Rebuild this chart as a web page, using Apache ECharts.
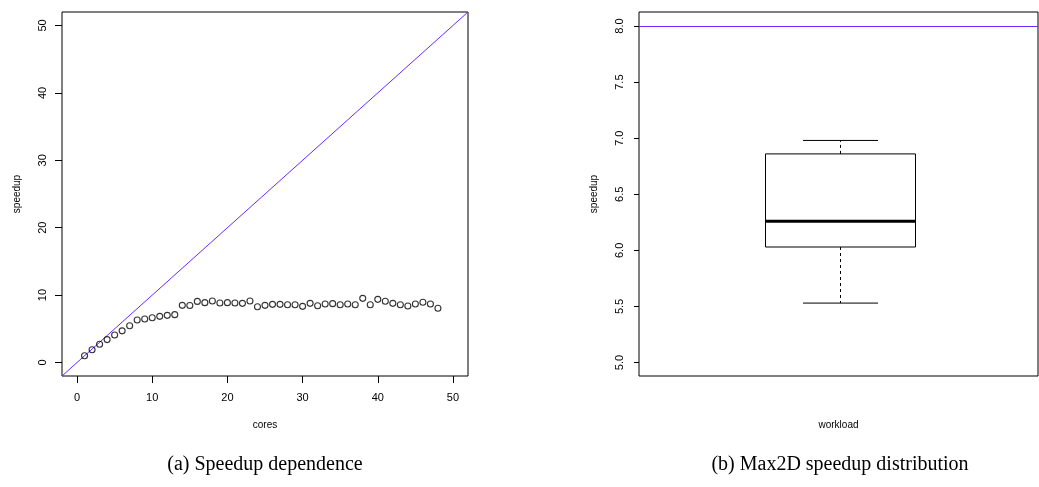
<!DOCTYPE html>
<html>
<head>
<meta charset="utf-8">
<script src="https://cdn.jsdelivr.net/npm/echarts@6/dist/echarts.min.js"></script>
<style>
html,body{margin:0;padding:0;background:#fff;}
#chart{width:1039px;height:487px;}
</style>
</head>
<body>
<div id="chart"></div>
<script>
// ---- data ----
const cores = [1,2,3,4,5,6,7,8,9,10,11,12,13,14,15,16,17,18,19,20,21,22,23,24,25,26,27,28,29,30,31,32,33,34,35,36,37,38,39,40,41,42,43,44,45,46,47,48];
const speedup = [1.0,1.9,2.7,3.4,4.08,4.7,5.46,6.3,6.45,6.65,6.85,7.0,7.1,8.48,8.45,9.07,8.88,9.12,8.83,8.88,8.83,8.78,9.12,8.28,8.48,8.63,8.63,8.58,8.58,8.33,8.78,8.43,8.68,8.73,8.58,8.68,8.58,9.52,8.58,9.37,9.08,8.78,8.58,8.38,8.68,8.93,8.68,8.04];
const leftRange = [-2, 52];
const leftTicks = [0,10,20,30,40,50];
const idealLine = leftRange; // y = x reference line
// boxplot stats: [low whisker, Q1, median, Q3, high whisker]
const workloadCats = ['workload'];
const boxStats = [[5.53, 6.03, 6.26, 6.86, 6.98]];
const rightRange = [4.88, 8.125];
const rightTicks = [5.0,5.5,6.0,6.5,7.0,7.5,8.0];
const refSpeedup = 8;

const chart = echarts.init(document.getElementById('chart'), null, {renderer:'canvas'});
const axisFont = {fontFamily:'Liberation Sans, Arial, sans-serif', fontSize:11, color:'#000'};
const purple = '#6a2aff';

const option = {
  animation:false,
  backgroundColor:'#fff',
  grid:[
    {left:62, top:12, width:406, height:364, show:true, borderColor:'#000', borderWidth:1, backgroundColor:'transparent'},
    {left:639, top:12, width:399, height:364, show:true, borderColor:'#000', borderWidth:1, backgroundColor:'transparent'}
  ],
  xAxis:[
    {type:'value', gridIndex:0, min:leftRange[0], max:leftRange[1],
     name:'cores', nameLocation:'middle', nameGap:44,
     nameTextStyle:{fontFamily:'Liberation Sans, Arial, sans-serif', fontSize:10, color:'#000'},
     axisLine:{show:false, onZero:false}, splitLine:{show:false},
     axisTick:{show:true, inside:false, length:7, lineStyle:{color:'#000'}, customValues:leftTicks},
     axisLabel:Object.assign({margin:16, customValues:leftTicks}, axisFont)},
    {type:'category', gridIndex:1, data:workloadCats,
     name:'workload', nameLocation:'middle', nameGap:44,
     nameTextStyle:{fontFamily:'Liberation Sans, Arial, sans-serif', fontSize:10, color:'#000'},
     axisLine:{show:false, onZero:false}, axisTick:{show:false}, axisLabel:{show:false}, splitLine:{show:false}}
  ],
  yAxis:[
    {type:'value', gridIndex:0, min:leftRange[0], max:leftRange[1],
     name:'speedup', nameLocation:'middle', nameGap:40, nameRotate:90,
     nameTextStyle:{fontFamily:'Liberation Sans, Arial, sans-serif', fontSize:10, color:'#000'},
     axisLine:{show:false, onZero:false}, splitLine:{show:false},
     axisTick:{show:true, inside:false, length:7, lineStyle:{color:'#000'}, customValues:leftTicks},
     axisLabel:Object.assign({margin:14, rotate:90, customValues:leftTicks}, axisFont)},
    {type:'value', gridIndex:1, min:rightRange[0], max:rightRange[1],
     name:'speedup', nameLocation:'middle', nameGap:40, nameRotate:90,
     nameTextStyle:{fontFamily:'Liberation Sans, Arial, sans-serif', fontSize:10, color:'#000'},
     axisLine:{show:false, onZero:false}, splitLine:{show:false},
     axisTick:{show:true, inside:false, length:5, lineStyle:{color:'#000'}, customValues:rightTicks},
     axisLabel:Object.assign({margin:14, rotate:90, customValues:rightTicks, formatter:v=>Number(v).toFixed(1)}, axisFont)}
  ],
  series:[
    {type:'line', xAxisIndex:0, yAxisIndex:0, data:idealLine.map(v=>[v,v]),
     symbol:'none', clip:true, lineStyle:{color:purple, width:1}, silent:true, z:1},
    {type:'scatter', xAxisIndex:0, yAxisIndex:0, data:cores.map((c,i)=>[c,speedup[i]]),
     symbol:'circle', symbolSize:6,
     itemStyle:{color:'transparent', borderColor:'#000', borderWidth:1.1}, z:3},
    {type:'custom', xAxisIndex:1, yAxisIndex:1,
     data:boxStats.map((s,i)=>[i].concat(s)),
     encode:{x:0, y:[1,2,3,4,5]},
     renderItem:function(params, api){
       const c = api.value(0);
       const pLow = api.coord([c, api.value(1)]);
       const pQ1 = api.coord([c, api.value(2)]);
       const pMed = api.coord([c, api.value(3)]);
       const pQ3 = api.coord([c, api.value(4)]);
       const pHigh = api.coord([c, api.value(5)]);
       const x = pMed[0] + 2;
       const hw = 75, cw = 37.5;
       const ls = {stroke:'#000', lineWidth:1, fill:null};
       return {type:'group', children:[
         {type:'line', shape:{x1:x, y1:pQ3[1], x2:x, y2:pHigh[1]}, style:Object.assign({lineDash:[3,3]}, ls)},
         {type:'line', shape:{x1:x, y1:pQ1[1], x2:x, y2:pLow[1]}, style:Object.assign({lineDash:[3,3]}, ls)},
         {type:'line', shape:{x1:x-cw, y1:pHigh[1], x2:x+cw, y2:pHigh[1]}, style:ls},
         {type:'line', shape:{x1:x-cw, y1:pLow[1], x2:x+cw, y2:pLow[1]}, style:ls},
         {type:'rect', shape:{x:x-hw, y:pQ3[1], width:2*hw, height:pQ1[1]-pQ3[1]}, style:{stroke:'#000', lineWidth:1, fill:'#fff'}},
         {type:'line', shape:{x1:x-hw, y1:pMed[1], x2:x+hw, y2:pMed[1]}, style:{stroke:'#000', lineWidth:3}}
       ]};
     },
     markLine:{silent:true, symbol:['none','none'], label:{show:false},
       lineStyle:{color:purple, width:1, type:'solid'},
       data:[{yAxis:refSpeedup}]},
     z:2}
  ],
  graphic:[
    {type:'text', x:265, y:465, style:{text:'(a) Speedup dependence', fontFamily:'Liberation Serif, Times New Roman, serif', fontSize:20, fill:'#000', textAlign:'center', textVerticalAlign:'middle'}},
    {type:'text', x:840, y:465, style:{text:'(b) Max2D speedup distribution', fontFamily:'Liberation Serif, Times New Roman, serif', fontSize:20, fill:'#000', textAlign:'center', textVerticalAlign:'middle'}}
  ]
};
chart.setOption(option);
</script>
</body>
</html>
